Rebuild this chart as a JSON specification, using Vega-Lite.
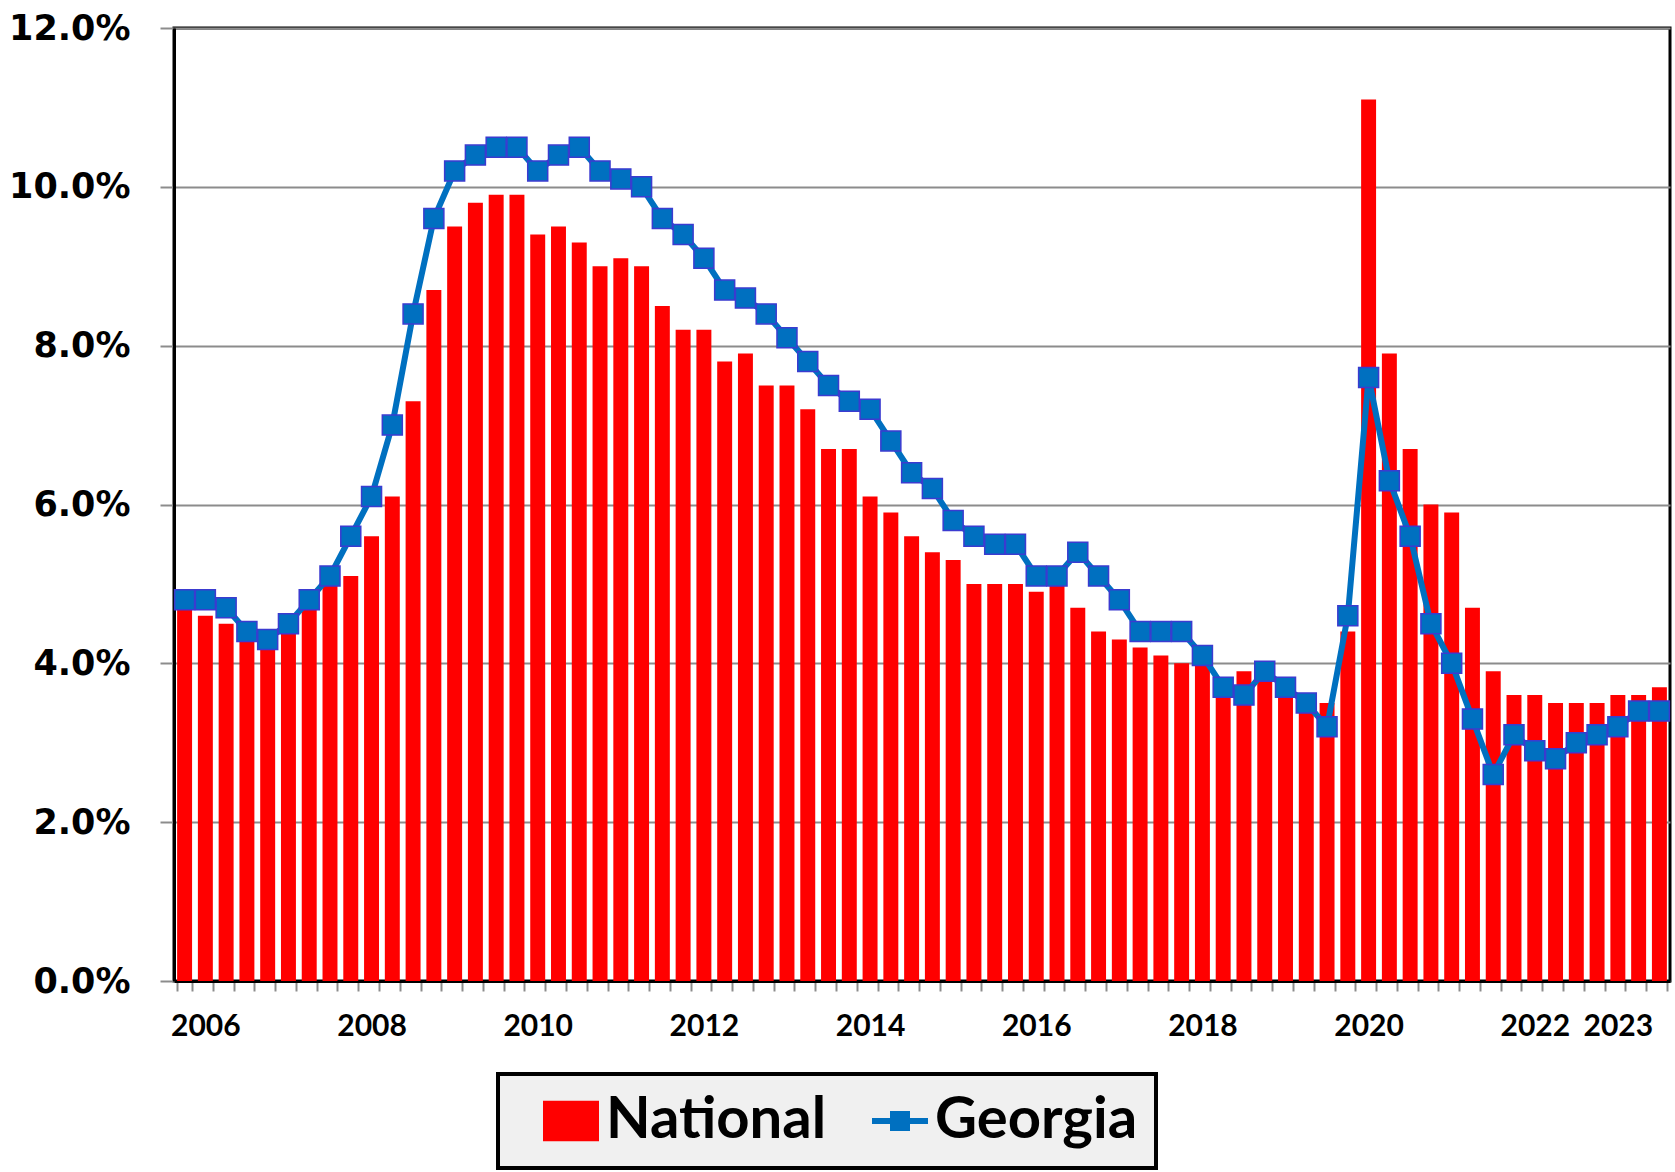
{
  "$schema": "https://vega.github.io/schema/vega-lite/v6.json",
  "width": 1496,
  "height": 953,
  "autosize": {"type": "none"},
  "padding": {"left": 174, "top": 28, "right": 5, "bottom": 191},
  "background": "white",
  "config": {
    "view": {"stroke": "black", "strokeWidth": 3},
    "axis": {"title": null}
  },
  "data": {
    "values": [
      {"q": "2006Q1", "national": 4.7, "georgia": 4.8},
      {"q": "2006Q2", "national": 4.6, "georgia": 4.8},
      {"q": "2006Q3", "national": 4.5, "georgia": 4.7},
      {"q": "2006Q4", "national": 4.4, "georgia": 4.4},
      {"q": "2007Q1", "national": 4.2, "georgia": 4.3},
      {"q": "2007Q2", "national": 4.4, "georgia": 4.5},
      {"q": "2007Q3", "national": 4.7, "georgia": 4.8},
      {"q": "2007Q4", "national": 5.0, "georgia": 5.1},
      {"q": "2008Q1", "national": 5.1, "georgia": 5.6},
      {"q": "2008Q2", "national": 5.6, "georgia": 6.1},
      {"q": "2008Q3", "national": 6.1, "georgia": 7.0},
      {"q": "2008Q4", "national": 7.3, "georgia": 8.4},
      {"q": "2009Q1", "national": 8.7, "georgia": 9.6},
      {"q": "2009Q2", "national": 9.5, "georgia": 10.2},
      {"q": "2009Q3", "national": 9.8, "georgia": 10.4},
      {"q": "2009Q4", "national": 9.9, "georgia": 10.5},
      {"q": "2010Q1", "national": 9.9, "georgia": 10.5},
      {"q": "2010Q2", "national": 9.4, "georgia": 10.2},
      {"q": "2010Q3", "national": 9.5, "georgia": 10.4},
      {"q": "2010Q4", "national": 9.3, "georgia": 10.5},
      {"q": "2011Q1", "national": 9.0, "georgia": 10.2},
      {"q": "2011Q2", "national": 9.1, "georgia": 10.1},
      {"q": "2011Q3", "national": 9.0, "georgia": 10.0},
      {"q": "2011Q4", "national": 8.5, "georgia": 9.6},
      {"q": "2012Q1", "national": 8.2, "georgia": 9.4},
      {"q": "2012Q2", "national": 8.2, "georgia": 9.1},
      {"q": "2012Q3", "national": 7.8, "georgia": 8.7},
      {"q": "2012Q4", "national": 7.9, "georgia": 8.6},
      {"q": "2013Q1", "national": 7.5, "georgia": 8.4},
      {"q": "2013Q2", "national": 7.5, "georgia": 8.1},
      {"q": "2013Q3", "national": 7.2, "georgia": 7.8},
      {"q": "2013Q4", "national": 6.7, "georgia": 7.5},
      {"q": "2014Q1", "national": 6.7, "georgia": 7.3},
      {"q": "2014Q2", "national": 6.1, "georgia": 7.2},
      {"q": "2014Q3", "national": 5.9, "georgia": 6.8},
      {"q": "2014Q4", "national": 5.6, "georgia": 6.4},
      {"q": "2015Q1", "national": 5.4, "georgia": 6.2},
      {"q": "2015Q2", "national": 5.3, "georgia": 5.8},
      {"q": "2015Q3", "national": 5.0, "georgia": 5.6},
      {"q": "2015Q4", "national": 5.0, "georgia": 5.5},
      {"q": "2016Q1", "national": 5.0, "georgia": 5.5},
      {"q": "2016Q2", "national": 4.9, "georgia": 5.1},
      {"q": "2016Q3", "national": 5.0, "georgia": 5.1},
      {"q": "2016Q4", "national": 4.7, "georgia": 5.4},
      {"q": "2017Q1", "national": 4.4, "georgia": 5.1},
      {"q": "2017Q2", "national": 4.3, "georgia": 4.8},
      {"q": "2017Q3", "national": 4.2, "georgia": 4.4},
      {"q": "2017Q4", "national": 4.1, "georgia": 4.4},
      {"q": "2018Q1", "national": 4.0, "georgia": 4.4},
      {"q": "2018Q2", "national": 4.0, "georgia": 4.1},
      {"q": "2018Q3", "national": 3.7, "georgia": 3.7},
      {"q": "2018Q4", "national": 3.9, "georgia": 3.6},
      {"q": "2019Q1", "national": 3.8, "georgia": 3.9},
      {"q": "2019Q2", "national": 3.6, "georgia": 3.7},
      {"q": "2019Q3", "national": 3.5, "georgia": 3.5},
      {"q": "2019Q4", "national": 3.5, "georgia": 3.2},
      {"q": "2020Q1", "national": 4.4, "georgia": 4.6},
      {"q": "2020Q2", "national": 11.1, "georgia": 7.6},
      {"q": "2020Q3", "national": 7.9, "georgia": 6.3},
      {"q": "2020Q4", "national": 6.7, "georgia": 5.6},
      {"q": "2021Q1", "national": 6.0, "georgia": 4.5},
      {"q": "2021Q2", "national": 5.9, "georgia": 4.0},
      {"q": "2021Q3", "national": 4.7, "georgia": 3.3},
      {"q": "2021Q4", "national": 3.9, "georgia": 2.6},
      {"q": "2022Q1", "national": 3.6, "georgia": 3.1},
      {"q": "2022Q2", "national": 3.6, "georgia": 2.9},
      {"q": "2022Q3", "national": 3.5, "georgia": 2.8},
      {"q": "2022Q4", "national": 3.5, "georgia": 3.0},
      {"q": "2023Q1", "national": 3.5, "georgia": 3.1},
      {"q": "2023Q2", "national": 3.6, "georgia": 3.2},
      {"q": "2023Q3", "national": 3.6, "georgia": 3.4},
      {"q": "2023Q4", "national": 3.7, "georgia": 3.4}
    ]
  },
  "encoding": {
    "x": {
      "field": "q",
      "type": "ordinal",
      "sort": null,
      "scale": {"paddingInner": 0.28, "paddingOuter": 0.15},
      "axis": {
        "labelAngle": 0,
        "labelExpr": "(substring(datum.value,4)=='Q2' && (parseInt(substring(datum.value,0,4))%2==0 || substring(datum.value,0,4)=='2023')) ? substring(datum.value,0,4) : ''",
        "labelOverlap": false,
        "labelFont": "Lato",
        "labelFontSize": 30,
        "labelFontWeight": "bold",
        "labelColor": "black",
        "labelPadding": 20,
        "tickBand": "extent",
        "tickSize": 10,
        "tickColor": "#8c8c8c",
        "tickWidth": 2,
        "domainColor": "black",
        "domainWidth": 3,
        "grid": false
      }
    }
  },
  "layer": [
    {
      "mark": {"type": "bar"},
      "encoding": {
        "y": {
          "field": "national",
          "type": "quantitative",
          "scale": {"domain": [0, 12], "nice": false},
          "axis": {
            "values": [0, 2, 4, 6, 8, 10, 12],
            "labelExpr": "format(datum.value,'.1f')+'%'",
            "labelFont": "DejaVu Sans",
            "labelFontSize": 35,
            "labelFontWeight": "bold",
            "labelColor": "black",
            "labelPadding": 30,
            "tickSize": 14,
            "tickColor": "#8c8c8c",
            "tickWidth": 2,
            "grid": true,
            "gridColor": "#8c8c8c",
            "gridWidth": 2,
            "domainColor": "black",
            "domainWidth": 3
          }
        },
        "color": {
          "datum": "National",
          "type": "nominal",
          "scale": {"domain": ["National", "Georgia"], "range": ["#ff0000", "#0070c0"]},
          "legend": {
            "title": null,
            "orient": "none",
            "direction": "horizontal",
            "legendX": 324,
            "legendY": 1046,
            "fillColor": "#f0f0f0",
            "strokeColor": "black",
            "padding": 18,
            "symbolOffset": 26,
            "symbolSize": 3136,
            "symbolStrokeWidth": 6,
            "labelFont": "Lato",
            "labelFontSize": 58,
            "labelFontWeight": "bold",
            "labelColor": "black",
            "labelOffset": 6,
            "labelLimit": 600,
            "columnPadding": 18,
            "labelExpr": "datum.label == 'Georgia' ? 'Georgia\u00a0\u00a0' : datum.label",
            "encode": {
              "legend": {"update": {"strokeWidth": {"value": 4}}},
              "symbols": {
                "update": {
                  "shape": {"signal": "datum.value === 'National' ? 'M-1,-0.72H1V0.72H-1Z' : 'M-1,0H1M-0.25,-0.25H0.25V0.25H-0.25Z'"},
                  "fill": {"signal": "datum.value === 'National' ? '#ff0000' : '#0070c0'"},
                  "stroke": {"signal": "datum.value === 'National' ? '#ff0000' : '#0070c0'"},
                  "strokeWidth": {"signal": "datum.value === 'National' ? 0 : 6"},
                  "opacity": {"value": 1},
                  "fillOpacity": {"value": 1}
                }
              }
            }
          }
        }
      }
    },
    {
      "mark": {
        "type": "line",
        "strokeWidth": 6,
        "point": {"shape": "square", "size": 400, "filled": true, "stroke": "#3b3bd0", "strokeWidth": 1.5, "opacity": 1}
      },
      "encoding": {
        "y": {"field": "georgia", "type": "quantitative"},
        "color": {"datum": "Georgia", "type": "nominal"}
      }
    }
  ]
}
